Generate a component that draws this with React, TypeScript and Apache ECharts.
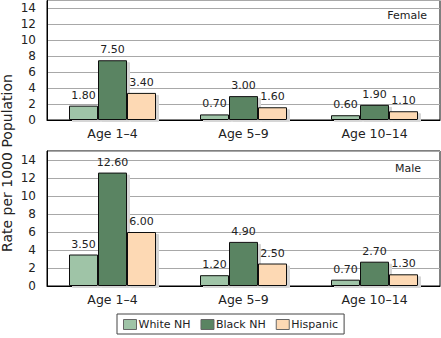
import React, { useEffect, useRef } from "react";
import * as echarts from "echarts";

const categories = ["Age 1–4", "Age 5–9", "Age 10–14"];
const seriesNames = ["White NH", "Black NH", "Hispanic"];
const femaleWhite = [1.8, 0.7, 0.6];
const femaleBlack = [7.5, 3.0, 1.9];
const femaleHispanic = [3.4, 1.6, 1.1];
const maleWhite = [3.5, 1.2, 0.7];
const maleBlack = [12.6, 4.9, 2.7];
const maleHispanic = [6.0, 2.5, 1.3];
const yTicks = [0, 2, 4, 6, 8, 10, 12, 14];

const colors = ["#9fc4a7", "#5a8462", "#fdd9b4"];
const FONT = "DejaVu Sans";

export default function App() {
  const ref = useRef<HTMLDivElement>(null);
  useEffect(() => {
    if (!ref.current) return;
    const chart = echarts.init(ref.current, undefined, { renderer: "svg" });
    const grids = [
      { left: 47, right: 1, top: 0.5, height: 119.5 },
      { left: 47, right: 1, top: 151, height: 135 },
    ];
    const yAxis = grids.map((_, i) => ({
      type: "value" as const,
      gridIndex: i,
      min: 0,
      max: 15,
      interval: 2,
      axisLine: { show: true, lineStyle: { color: "#000" } },
      axisTick: { show: false },
      axisLabel: {
        margin: 11,
        fontFamily: FONT,
        fontSize: 12,
        color: "#222",
        formatter: (v: number) => (yTicks.includes(v) ? String(v) : ""),
      },
      splitLine: { lineStyle: { color: "#a8a8a8" } },
    }));
    const xAxis = grids.map((_, i) => ({
      type: "category" as const,
      gridIndex: i,
      data: categories,
      axisLine: { show: true, lineStyle: { color: "#000" } },
      axisTick: { show: false },
      axisLabel: { fontFamily: FONT, fontSize: 12.5, color: "#222", margin: 7 },
    }));
    const data = [
      [femaleWhite, femaleBlack, femaleHispanic],
      [maleWhite, maleBlack, maleHispanic],
    ];
    const series: any[] = [];
    data.forEach((group, gi) => {
      group.forEach((vals, si) => {
        series.push({
          type: "bar",
          name: seriesNames[si],
          xAxisIndex: gi,
          yAxisIndex: gi,
          data: vals,
          barWidth: 29,
          barGap: "0%",
          itemStyle: {
            color: colors[si],
            borderColor: "#111",
            borderWidth: 1,
            shadowColor: "#d6d6d6",
            shadowOffsetX: 3,
            shadowOffsetY: 2,
            shadowBlur: 0,
          },
          label: {
            show: true,
            position: "top",
            distance: 5,
            fontFamily: FONT,
            fontSize: 11,
            color: "#222",
            formatter: (p: any) => Number(p.value).toFixed(2),
          },
        });
      });
    });
    chart.setOption({
      animation: false,
      grid: grids.map((g) => ({ ...g, show: true, borderColor: "#000", borderWidth: 1 })),
      xAxis,
      yAxis,
      series,
      legend: {
        data: seriesNames,
        icon: "rect",
        left: 117,
        top: 314,
        itemWidth: 13,
        itemHeight: 10,
        itemGap: 10,
        padding: [5, 6, 4, 6],
        borderColor: "#444",
        borderWidth: 1,
        itemStyle: { borderColor: "#666", borderWidth: 1 },
        textStyle: { fontFamily: FONT, fontSize: 11, color: "#222", padding: [0, 0, 0, -3] },
      },
      graphic: [
        {
          type: "text",
          right: 14,
          top: 10,
          style: { text: "Female", fontFamily: FONT, fontSize: 11, fill: "#222" },
        },
        {
          type: "text",
          right: 20,
          top: 163,
          style: { text: "Male", fontFamily: FONT, fontSize: 11, fill: "#222" },
        },
        {
          type: "text",
          x: 0,
          y: 163,
          rotation: Math.PI / 2,
          style: {
            text: "Rate per 1000 Population",
            fontFamily: FONT,
            fontSize: 14,
            fill: "#222",
            align: "center",
            verticalAlign: "top",
          },
        },
      ],
    });
    return () => chart.dispose();
  }, []);
  return (
    <div
      ref={ref}
      style={{ position: "fixed", left: 0, top: 0, width: 441, height: 338, background: "#fff" }}
    />
  );
}
